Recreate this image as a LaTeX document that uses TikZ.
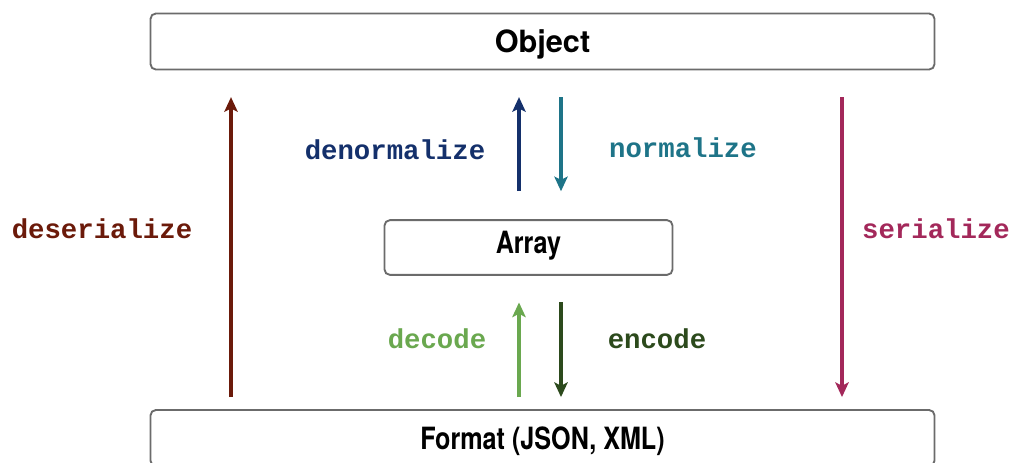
\documentclass[tikz,border=0pt]{standalone}
\usepackage{fontspec}
\setmainfont{TeX Gyre Heros}
\setmonofont{Liberation Mono}
\newfontfamily\narrowfont{TeX Gyre Heros}[FakeStretch=0.82]
\usetikzlibrary{calc,positioning,arrows.meta}
\definecolor{desred}{HTML}{6B1A0A}
\definecolor{denblue}{HTML}{14306B}
\definecolor{norteal}{HTML}{1E7488}
\definecolor{serpink}{HTML}{A3285A}
\definecolor{declight}{HTML}{6AA84F}
\definecolor{encdark}{HTML}{2C4A1C}
\tikzset{
  >={Stealth[length=11pt,width=10pt,inset=2.5pt]},
  box/.style={
    rectangle,
    rounded corners=4pt,
    draw=black!58, line width=1.4pt,
    fill=white,
    font=\fontsize{23}{26}\selectfont\bfseries,
    text height=16.5pt, text depth=0pt,
    inner sep=0pt},
  lbl/.style={font=\fontsize{20.5}{24}\selectfont\ttfamily\bfseries, inner sep=0pt},
  conn/.style={->, line width=2.3pt, shorten >=20pt},
}

\begin{document}
\begin{tikzpicture}[x=0.75pt,y=-0.75pt]

    \useasboundingbox (0,0) rectangle (1011,462);

    \node[box, minimum width=588pt, minimum height=42pt] (obj) at (542.5,41.5) {Object};
    \node[box, minimum width=216pt, minimum height=41pt, text depth=7pt] (arr) at (528.5,247.5) {\narrowfont Array};
    \node[box, minimum width=588pt, minimum height=42pt] (fmt) at (542.5,438) {\narrowfont Format (JSON, XML)};

    \coordinate (xl) at (231,0);
    \coordinate (xu) at (519,0);
    \coordinate (xd) at (561,0);
    \coordinate (xr) at (842,0);

    % outer pair
    \draw[conn, desred, shorten <=9pt] (xl |- fmt.north) -- (xl |- obj.south);
    \draw[conn, serpink, shorten <=20pt, shorten >=9pt] (xr |- obj.south) -- (xr |- fmt.north);

    % object <-> array
    \draw[conn, denblue, shorten <=21pt] (xu |- arr.north) -- (xu |- obj.south);
    \draw[conn, norteal, shorten <=20pt, shorten >=21pt] (xd |- obj.south) -- (xd |- arr.north);

    % array <-> format
    \draw[conn, declight, shorten <=9pt] (xu |- fmt.north) -- (xu |- arr.south);
    \draw[conn, encdark, shorten <=20pt, shorten >=9pt] (xd |- arr.south) -- (xd |- fmt.north);

    \node[lbl, text=desred] (ldes) at (102,229) {deserialize};
    \node[lbl, text=serpink] (lser) at (936,229) {serialize};
    \node[lbl, text=denblue] (lden) at (395,150) {denormalize};
    \node[lbl, text=norteal] (lnor) at (683,148) {normalize};
    \node[lbl, text=declight] (ldec) at (437,339) {decode};
    \node[lbl, text=encdark] (lenc) at (657,339) {encode};

\end{tikzpicture}
\end{document}
